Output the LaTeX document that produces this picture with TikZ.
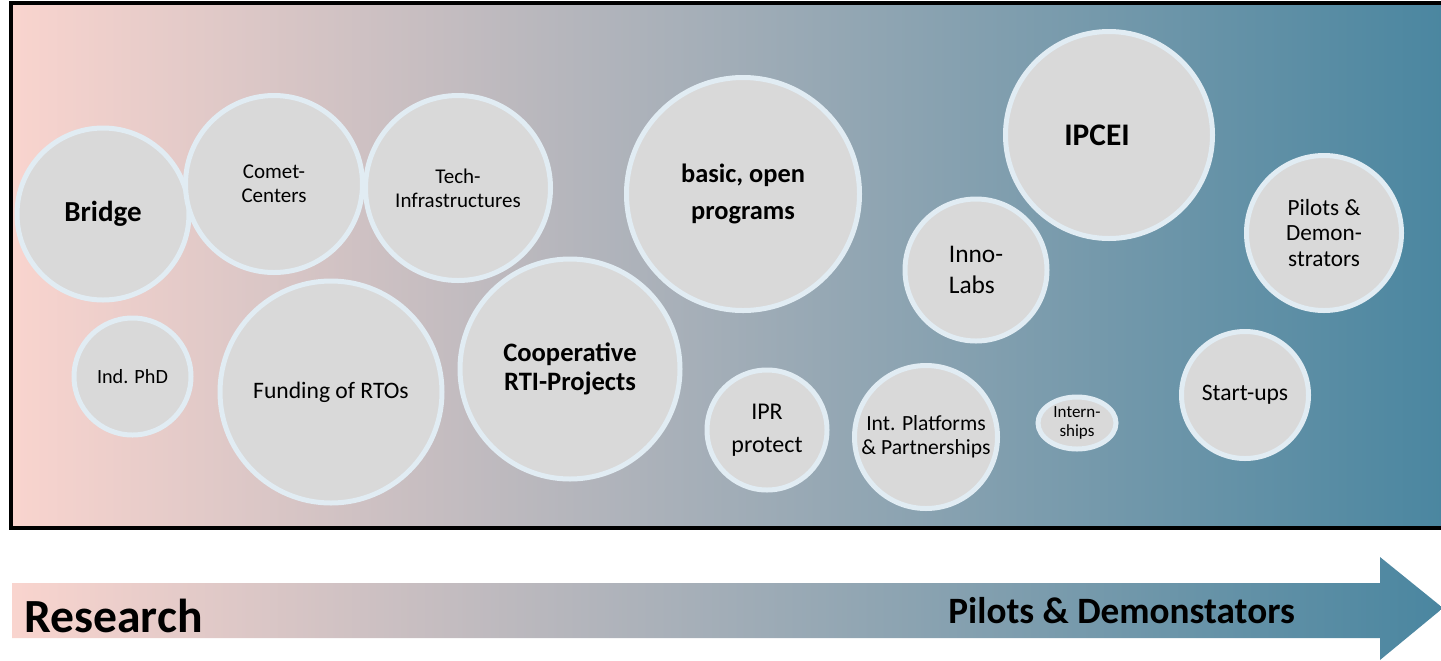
\documentclass[tikz,border=0pt]{standalone}
\usepackage{fontspec}
\setmainfont{Carlito}
\usetikzlibrary{shapes.geometric}
\definecolor{respink}{RGB}{249,212,206}
\definecolor{midgray}{RGB}{170,175,184}
\definecolor{pilotblue}{RGB}{74,134,160}
\definecolor{bubfill}{RGB}{217,217,217}
\definecolor{bubline}{RGB}{225,236,243}
\newcommand{\fsz}[2]{\fontsize{#1}{#2}\selectfont}
\begin{document}
\begin{tikzpicture}[x=0.5pt,y=-0.5pt,
  bub/.style = {circle,fill=bubfill,draw=bubline,line width=2.5pt,inner sep=0pt,
                minimum size=#1*0.5pt,align=center,text=black},
  tag/.style = {font=\bfseries,anchor=base west,inner sep=0pt}]
\useasboundingbox (0,0) rectangle (1441,660);
% background band
\shade[left color=respink,middle color=midgray,right color=pilotblue]
  (11,3) rectangle (1448,528);
\draw[line width=1.6pt] (11,3) rectangle (1448,528);
% bubbles, top row
\node[bub=172,font=\fsz{14.5}{17}\bfseries] (bridge) at (103,214) {Bridge};
\node[bub=177,font=\fsz{10.5}{12}] (comet) at (274,184) {Comet-\\Centers};
\node[bub=185,font=\fsz{10.5}{12}] (techinfra) at (458,188) {Tech-\\Infrastructures};
\node[bub=233,font=\fsz{13.2}{18.5}\bfseries] (basic) at (743,194) {basic, open\\programs};
\node[bub=207,font=\fsz{15.7}{18}\bfseries] (ipcei) at (1109,135) {IPCEI\hspace*{12pt}};
\node[bub=142,align=left,font=\fsz{12.7}{15.5}] (innolabs) at (976,270) {Inno-\\Labs};
\node[bub=155,font=\fsz{11.6}{12.8}] (pilots) at (1324,233) {Pilots \&\\Demon-\\strators};
% bubbles, bottom row
\node[bub=117,font=\fsz{10.1}{12}] (phd) at (132.5,376.5) {Ind. PhD};
\node[bub=222,font=\fsz{11.8}{14}] (rtos) at (331,392) {Funding of RTOs};
\node[bub=220,font=\fsz{13.3}{14.5}\bfseries] (coop) at (570,369) {Cooperative\\RTI-Projects};
\node[bub=120,font=\fsz{12}{16.5}] (ipr) at (767,430) {IPR\\protect};
\node[bub=143,font=\fsz{10.8}{12}] (platforms) at (926,437) {Int. Platforms\\\& Partnerships};
\node[bub=0,ellipse,minimum width=78*0.5pt,minimum height=52*0.5pt,font=\fsz{8.5}{9.5}] (intern) at (1077,423) {Intern-\\ships};
\node[bub=127,font=\fsz{11.8}{14}] (startups) at (1245,395) {Start-ups};
% arrow
\shade[left color=respink,middle color=midgray,right color=pilotblue]
  (12,583) -- (1380,583) -- (1380,557) -- (1443,608) -- (1380,660)
  -- (1380,638) -- (12,638) -- cycle;
\node[tag,font=\fsz{23.8}{28}\bfseries] (research) at (24,632) {Research};
\node[tag,font=\fsz{18.6}{22}\bfseries] (demo) at (948,623) {Pilots \& Demonstators};
\end{tikzpicture}
\end{document}
